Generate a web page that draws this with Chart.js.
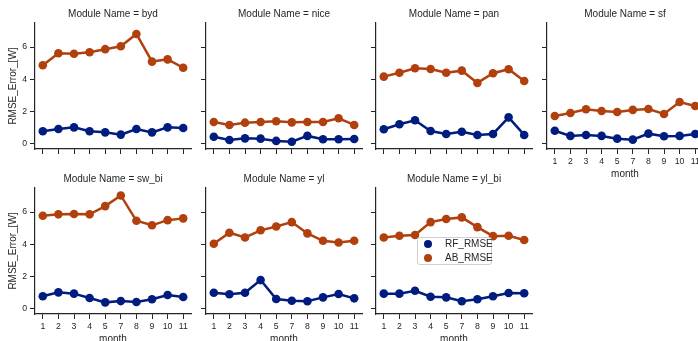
<!DOCTYPE html>
<html>
<head>
<meta charset="utf-8">
<script src="https://cdn.jsdelivr.net/npm/chart.js@4.4.1/dist/chart.umd.min.js"></script>
<style>
  html, body { margin: 0; padding: 0; background: #ffffff; }
  #grid { position: relative; width: 698px; height: 341px; overflow: hidden; background: #ffffff; }
  .panel { position: absolute; }
</style>
</head>
<body>
<div id="grid"></div>
<script>
// Months present in the data (June is absent)
const months = ['1', '2', '3', '4', '5', '7', '8', '9', '10', '11'];
const modules = ['byd', 'nice', 'pan', 'sf', 'sw_bi', 'yl', 'yl_bi'];
const seriesNames = ['RF_RMSE', 'AB_RMSE'];
const yTicks = [0, 2, 4, 6];

// RMSE per month, one pair of arrays per module
const rf_byd   = [0.79, 0.93, 1.03, 0.79, 0.72, 0.58, 0.93, 0.72, 1.03, 0.99];
const ab_byd   = [4.87, 5.62, 5.59, 5.68, 5.87, 6.05, 6.81, 5.10, 5.24, 4.72];
const rf_nice  = [0.45, 0.25, 0.35, 0.33, 0.19, 0.14, 0.50, 0.29, 0.29, 0.31];
const ab_nice  = [1.36, 1.18, 1.32, 1.36, 1.41, 1.34, 1.36, 1.36, 1.59, 1.18];
const rf_pan   = [0.91, 1.22, 1.47, 0.80, 0.62, 0.76, 0.56, 0.62, 1.65, 0.56];
const ab_pan   = [4.17, 4.41, 4.69, 4.64, 4.41, 4.54, 3.78, 4.38, 4.63, 3.90];
const rf_sf    = [0.82, 0.50, 0.56, 0.50, 0.33, 0.27, 0.64, 0.48, 0.50, 0.62];
const ab_sf    = [1.73, 1.92, 2.15, 2.04, 1.98, 2.11, 2.17, 1.86, 2.60, 2.35];
const rf_sw_bi = [0.79, 1.03, 0.95, 0.68, 0.41, 0.49, 0.43, 0.60, 0.87, 0.74];
const ab_sw_bi = [5.77, 5.86, 5.88, 5.86, 6.37, 7.03, 5.46, 5.18, 5.50, 5.61];
const rf_yl    = [1.01, 0.91, 1.01, 1.79, 0.62, 0.51, 0.48, 0.72, 0.93, 0.66];
const ab_yl    = [4.04, 4.72, 4.43, 4.87, 5.11, 5.38, 4.68, 4.22, 4.12, 4.22];
const rf_yl_bi = [0.95, 0.95, 1.13, 0.76, 0.72, 0.48, 0.60, 0.79, 0.99, 0.97];
const ab_yl_bi = [4.43, 4.53, 4.58, 5.38, 5.57, 5.67, 5.07, 4.51, 4.53, 4.27];

const rfByModule = [rf_byd, rf_nice, rf_pan, rf_sf, rf_sw_bi, rf_yl, rf_yl_bi];
const abByModule = [ab_byd, ab_nice, ab_pan, ab_sf, ab_sw_bi, ab_yl, ab_yl_bi];

const BLUE = '#001c7f';
const ORANGE = '#b1400d';
const INK = '#262626';
const FONT = "'Liberation Sans', Arial, sans-serif";

// Facet geometry
const NCOL = 4;
const AXIS_X = [35, 206, 376, 547];
const ROW_TOP = [0, 165];
const Y_AXIS_W = 35;
const PLOT_W = 156;
const PAD_R = 10;
const CANVAS_W = Y_AXIS_W + PLOT_W + PAD_R;
const CANVAS_H = 180;
const X_AXIS_H = 31;

// Legend drawn inside the yl_bi facet, matplotlib style
const facetLegend = {
  id: 'facetLegend',
  afterDraw(chart, args, opts) {
    if (!opts.show) return;
    const ctx = chart.ctx;
    const a = chart.chartArea;
    const x0 = a.left + 41, y0 = a.top + 49, w = 74, h = 27;
    ctx.save();
    ctx.beginPath();
    ctx.roundRect(x0 + 0.5, y0 + 0.5, w, h, 2.5);
    ctx.fillStyle = 'rgba(255,255,255,0.8)';
    ctx.fill();
    ctx.strokeStyle = '#d0d0d0';
    ctx.lineWidth = 1;
    ctx.stroke();
    const colors = [BLUE, ORANGE];
    ctx.font = '10px ' + FONT;
    ctx.textBaseline = 'middle';
    ctx.textAlign = 'left';
    seriesNames.forEach((name, i) => {
      const cy = y0 + 7 + i * 14;
      ctx.beginPath();
      ctx.arc(x0 + 11, cy, 4, 0, Math.PI * 2);
      ctx.fillStyle = colors[i];
      ctx.fill();
      ctx.fillStyle = INK;
      ctx.fillText(name, x0 + 28, cy + 0.5);
    });
    ctx.restore();
  }
};

const grid = document.getElementById('grid');

modules.forEach((mod, idx) => {
  const col = idx % NCOL;
  const row = Math.floor(idx / NCOL);
  // a facet shows x labels when nothing sits below it
  const showX = row === 1 || idx + NCOL >= modules.length;
  const showY = col === 0;

  const canvas = document.createElement('canvas');
  canvas.className = 'panel';
  canvas.style.left = (AXIS_X[col] - Y_AXIS_W) + 'px';
  canvas.style.top = ROW_TOP[row] + 'px';
  canvas.style.width = CANVAS_W + 'px';
  canvas.style.height = CANVAS_H + 'px';
  canvas.width = CANVAS_W;
  canvas.height = CANVAS_H;
  grid.appendChild(canvas);

  const mkSeries = (label, data, color) => ({
    label, data,
    borderColor: color,
    backgroundColor: color,
    borderWidth: 2.5,
    pointRadius: 4.3,
    pointBorderWidth: 0,
    pointHoverRadius: 4.3,
    tension: 0
  });

  new Chart(canvas, {
    type: 'line',
    data: {
      labels: months,
      datasets: [
        mkSeries(seriesNames[1], abByModule[idx], ORANGE),
        mkSeries(seriesNames[0], rfByModule[idx], BLUE)
      ]
    },
    options: {
      responsive: false,
      animation: false,
      events: [],
      layout: { padding: { left: 0, right: PAD_R, top: 0, bottom: 0 } },
      plugins: {
        legend: { display: false },
        tooltip: { enabled: false },
        title: {
          display: true,
          fullSize: false,
          text: 'Module Name = ' + mod,
          color: INK,
          font: { family: FONT, size: 10, weight: 'normal', lineHeight: 1.2 },
          padding: { top: 8, bottom: 3 }
        },
        facetLegend: { show: mod === 'yl_bi' }
      },
      scales: {
        x: {
          type: 'category',
          offset: true,
          afterFit: (s) => { s.height = X_AXIS_H; },
          grid: {
            display: true,
            drawOnChartArea: false,
            drawTicks: true,
            tickLength: 5,
            tickColor: INK,
            tickWidth: 1,
            offset: false
          },
          border: { display: true, color: INK, width: 1.2 },
          ticks: {
            display: showX,
            autoSkip: false,
            maxRotation: 0,
            color: INK,
            padding: 2,
            font: { family: FONT, size: 8.7 }
          },
          title: {
            display: showX,
            text: 'month',
            color: INK,
            font: { family: FONT, size: 10 },
            padding: { top: 0, bottom: 0 }
          }
        },
        y: {
          min: -0.31,
          max: 7.49,
          afterFit: (s) => { s.width = Y_AXIS_W; },
          afterBuildTicks: (s) => { s.ticks = yTicks.map(v => ({ value: v })); },
          grid: {
            display: true,
            drawOnChartArea: false,
            drawTicks: true,
            tickLength: 5,
            tickColor: INK,
            tickWidth: 1
          },
          border: { display: true, color: INK, width: 1.2 },
          ticks: {
            display: showY,
            includeBounds: false,
            color: INK,
            padding: 3,
            font: { family: FONT, size: 8.7 }
          },
          title: {
            display: showY,
            text: 'RMSE_Error_[W]',
            color: INK,
            font: { family: FONT, size: 10 },
            padding: { top: 7, bottom: 0 }
          }
        }
      }
    },
    plugins: [facetLegend]
  });
});
</script>
</body>
</html>
